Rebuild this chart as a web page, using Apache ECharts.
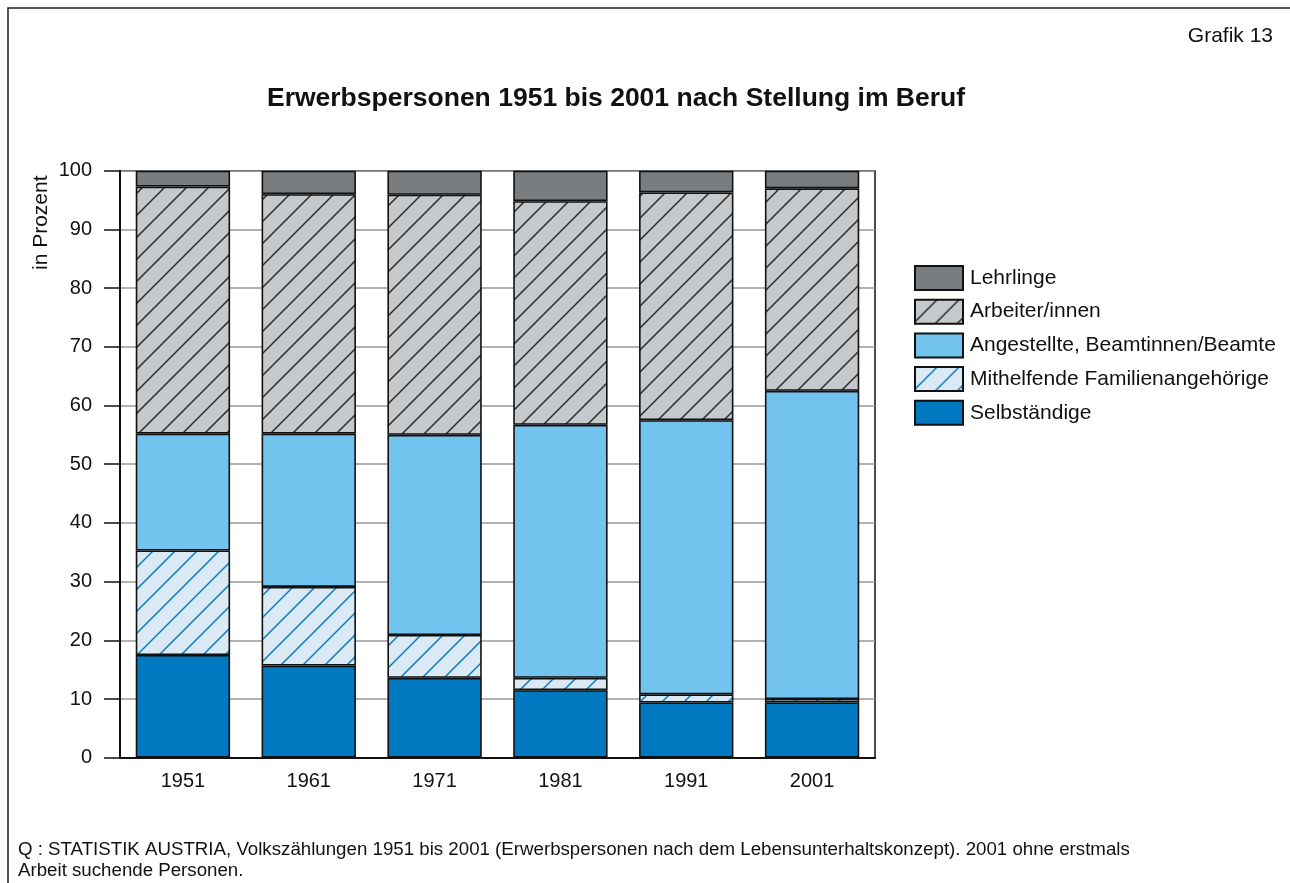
<!DOCTYPE html>
<html>
<head>
<meta charset="utf-8">
<script src="https://cdn.jsdelivr.net/npm/echarts@6.0.0/dist/echarts.min.js"></script>
<style>
  html, body { margin: 0; padding: 0; background: #fff; }
  #chart { width: 1290px; height: 883px; }
</style>
</head>
<body>
<div id="chart"></div>
<script>
// --- Data (Anteil in Prozent) ---
var years = ['1951', '1961', '1971', '1981', '1991', '2001'];
var selbstaendige = [17.5, 15.7, 13.6, 11.5, 9.4, 9.4];
var mithelfende = [17.8, 13.4, 7.3, 2.1, 1.4, 0.6];
var angestellte = [19.9, 26.1, 34.1, 43.1, 46.7, 52.5];
var arbeiter = [42.1, 40.8, 40.9, 38.1, 38.8, 34.5];
var lehrlinge = [2.7, 4.0, 4.1, 5.2, 3.7, 3.0];
var yTicks = [0, 10, 20, 30, 40, 50, 60, 70, 80, 90, 100];

var FONT = '"Liberation Sans", Arial, sans-serif';

// hatch pattern tile: "/" diagonal
function hatch(bg, line) {
  var s = 22;
  var c = document.createElement('canvas');
  c.width = s; c.height = s;
  var ctx = c.getContext('2d');
  ctx.fillStyle = bg;
  ctx.fillRect(0, 0, s, s);
  ctx.strokeStyle = line;
  ctx.lineWidth = 1.5;
  ctx.beginPath();
  ctx.moveTo(-2, s + 2); ctx.lineTo(s + 2, -2);
  ctx.moveTo(-2, 2); ctx.lineTo(2, -2);
  ctx.moveTo(s - 2, s + 2); ctx.lineTo(s + 2, s - 2);
  ctx.stroke();
  return { image: c, repeat: 'repeat' };
}

var chart = echarts.init(document.getElementById('chart'), null, { renderer: 'canvas' });

function bar(name, data, color) {
  return {
    name: name,
    type: 'bar',
    stack: 'total',
    data: data,
    barWidth: '75%',
    itemStyle: { color: color, borderColor: '#111', borderWidth: 1.6 },
    emphasis: { disabled: true }
  };
}

var option = {
  animation: false,
  textStyle: { fontFamily: FONT },
  title: {
    text: 'Erwerbspersonen 1951 bis 2001 nach Stellung im Beruf',
    left: 611,
    textAlign: 'center',
    top: 80,
    textStyle: { fontSize: 26.5, fontWeight: 'bold', color: '#111', fontFamily: FONT }
  },
  legend: {
    orient: 'vertical',
    left: 909,
    top: 260,
    icon: 'rect',
    itemWidth: 48,
    itemHeight: 24,
    itemGap: 7.7,
    data: ['Lehrlinge', 'Arbeiter/innen', 'Angestellte, Beamtinnen/Beamte',
           'Mithelfende Familienangehörige', 'Selbständige'],
    textStyle: { fontSize: 21, lineHeight: 24, color: '#111', fontFamily: FONT, padding: [0, 0, 0, 2] },
    selectedMode: false
  },
  grid: {
    left: 120, right: 415, top: 170.7, bottom: 125.3,
    show: true, borderColor: '#111', borderWidth: 1.5, backgroundColor: 'transparent'
  },
  xAxis: {
    type: 'category',
    data: years,
    axisLine: { lineStyle: { color: '#111', width: 2 } },
    axisTick: { show: false },
    axisLabel: { fontSize: 20, color: '#111', margin: 14, fontFamily: FONT }
  },
  yAxis: {
    type: 'value',
    min: yTicks[0],
    max: yTicks[yTicks.length - 1],
    interval: 10,
    axisLine: { show: true, lineStyle: { color: '#111', width: 2 } },
    axisTick: { show: true, length: 16, lineStyle: { color: '#111', width: 1.5 } },
    axisLabel: { fontSize: 20, color: '#111', margin: 28, fontFamily: FONT },
    splitLine: { lineStyle: { color: '#999', width: 1.5 } }
  },
  graphic: [
    { type: 'polyline', shape: { points: [[8, 883], [8, 8], [1290, 8]] },
      style: { stroke: '#222', lineWidth: 1.5, fill: null }, silent: true },
    { type: 'text', right: 17, top: 26,
      style: { text: 'Grafik 13', fill: '#111', font: '21px ' + FONT } },
    { type: 'text', x: 31, y: 270, rotation: Math.PI / 2,
      style: { text: 'in Prozent', fill: '#111', font: '21px ' + FONT } },
    { type: 'text', left: 18, top: 839,
      style: { text: 'Q : STATISTIK AUSTRIA, Volkszählungen 1951 bis 2001 (Erwerbspersonen nach dem Lebensunterhaltskonzept). 2001 ohne erstmals\nArbeit suchende Personen.',
               fill: '#111', font: '18.7px ' + FONT, lineHeight: 21 } }
  ],
  series: [
    bar('Selbständige', selbstaendige, '#0079c1'),
    bar('Mithelfende Familienangehörige', mithelfende, hatch('#dbe9f4', '#0a7cc1')),
    bar('Angestellte, Beamtinnen/Beamte', angestellte, '#72c3ee'),
    bar('Arbeiter/innen', arbeiter, hatch('#c5c9cc', '#2a2a2a')),
    bar('Lehrlinge', lehrlinge, '#797d80')
  ]
};

chart.setOption(option);
</script>
</body>
</html>
